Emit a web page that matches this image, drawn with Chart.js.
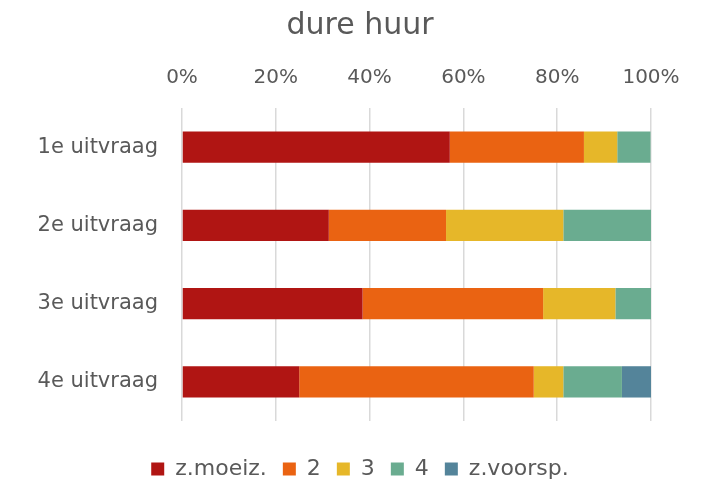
<!DOCTYPE html>
<html>
<head>
<meta charset="utf-8">
<script src="https://cdn.jsdelivr.net/npm/chart.js@4/dist/chart.umd.min.js"></script>
<style>
  html, body { margin: 0; padding: 0; background: #fff; }
  #wrap { width: 708px; height: 485px; }
</style>
</head>
<body>
<div id="wrap"><canvas id="huurChart"></canvas></div>
<script>
var categories = ['1e uitvraag', '2e uitvraag', '3e uitvraag', '4e uitvraag'];
var seriesNames = ['z.moeiz.', '2', '3', '4', 'z.voorsp.'];
var zMoeiz = [57.1, 31.3, 38.5, 25.0];
var twee = [28.6, 25.0, 38.5, 50.0];
var drie = [7.1, 25.0, 15.4, 6.3];
var vier = [7.1, 18.8, 7.7, 12.5];
var zVoorsp = [0, 0, 0, 6.3];
var tickLabels = ['0%', '20%', '40%', '60%', '80%', '100%'];

var colors = ['#B01513', '#EA6312', '#E6B729', '#6AAC90', '#54849A'];
var values = [zMoeiz, twee, drie, vier, zVoorsp];
var textColor = '#595959';
var fontName = "'DejaVu Sans', sans-serif";

var datasets = [];
for (var i = 0; i < seriesNames.length; i++) {
  datasets.push({
    label: seriesNames[i],
    data: values[i],
    backgroundColor: colors[i],
    borderWidth: 0,
    barPercentage: 0.4,
    categoryPercentage: 1.0
  });
}

var ctx = document.getElementById('huurChart').getContext('2d');
var myChart = new Chart(ctx, {
  type: 'bar',
  data: {
    labels: categories,
    datasets: datasets
  },
  options: {
    indexAxis: 'y',
    responsive: true,
    maintainAspectRatio: false,
    animation: false,
    layout: {
      padding: { left: 12, right: 0, top: 4, bottom: -5 }
    },
    scales: {
      x: {
        position: 'top',
        stacked: true,
        min: 0,
        max: 100,
        border: { display: false },
        grid: { color: '#D9D9D9', lineWidth: 1.5, drawTicks: false },
        afterFit: function(axis) { axis.paddingRight = 57; },
        ticks: {
          stepSize: 20,
          padding: 18,
          color: textColor,
          font: { family: fontName, size: 20 },
          callback: function(value) {
            return tickLabels[Math.round(value / 20)];
          }
        }
      },
      // empty spacer below the bars, keeps the legend lower
      x2: {
        position: 'bottom',
        min: 0,
        max: 100,
        border: { display: false },
        grid: { display: false, drawTicks: false },
        ticks: { display: false },
        afterFit: function(axis) { axis.height = 21; }
      },
      y: {
        stacked: true,
        border: { display: false },
        grid: { display: false, drawTicks: false },
        afterFit: function(axis) { axis.width = 170; },
        ticks: {
          padding: 24,
          color: textColor,
          font: { family: fontName, size: 21 }
        }
      }
    },
    plugins: {
      title: {
        display: true,
        text: 'dure huur',
        color: textColor,
        font: { family: fontName, size: 30, weight: 'normal' },
        padding: { top: 4, bottom: 4 }
      },
      legend: {
        position: 'bottom',
        labels: {
          color: textColor,
          font: { family: fontName, size: 22 },
          boxWidth: 13,
          boxHeight: 13,
          padding: 16
        }
      },
      tooltip: { enabled: false }
    }
  }
});
</script>
</body>
</html>
